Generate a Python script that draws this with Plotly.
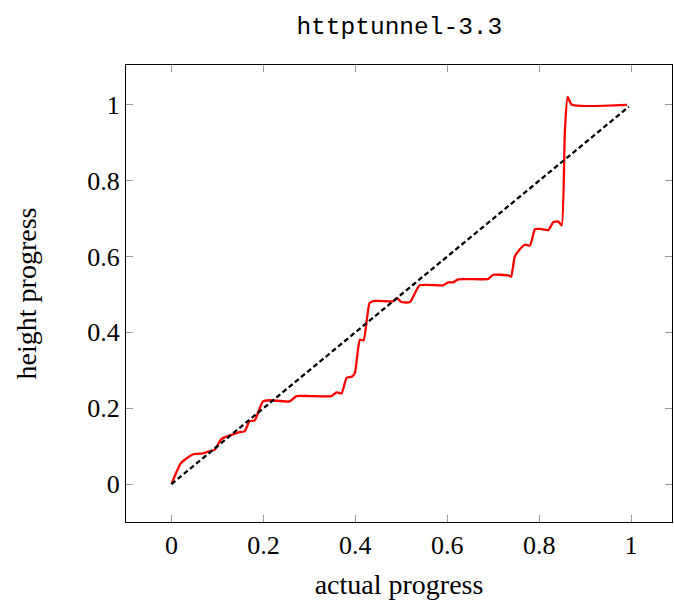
import plotly.graph_objects as go

# Red curve: measured height progress vs. actual progress
actual = [0.0, 0.021, 0.046, 0.068, 0.083, 0.094, 0.108, 0.119, 0.134, 0.148, 0.159,
          0.170, 0.181, 0.199, 0.214, 0.257, 0.272, 0.301, 0.348, 0.359, 0.370,
          0.381, 0.392, 0.399, 0.410, 0.418, 0.431, 0.442, 0.468, 0.482, 0.491,
          0.500, 0.519, 0.540, 0.591, 0.602, 0.613, 0.624, 0.689, 0.700, 0.733,
          0.739, 0.747, 0.758, 0.769, 0.780, 0.791, 0.802, 0.820, 0.831, 0.842,
          0.849, 0.856, 0.862, 0.871, 0.991]
height = [0.0, 0.056, 0.078, 0.081, 0.087, 0.091, 0.118, 0.125, 0.131, 0.137, 0.139,
          0.166, 0.168, 0.218, 0.221, 0.218, 0.232, 0.232, 0.232, 0.242, 0.239,
          0.280, 0.283, 0.293, 0.381, 0.379, 0.477, 0.483, 0.482, 0.482, 0.490,
          0.480, 0.480, 0.524, 0.524, 0.532, 0.532, 0.540, 0.541, 0.552, 0.550,
          0.547, 0.600, 0.619, 0.631, 0.629, 0.672, 0.673, 0.670, 0.691, 0.692,
          0.682, 0.933, 1.021, 1.0, 1.0]

# Ideal diagonal reference
ideal_x = [0.0, 0.995]
ideal_y = [0.0, 0.995]

tick_vals = [0, 0.2, 0.4, 0.6, 0.8, 1]
tick_text = ["0", "0.2", "0.4", "0.6", "0.8", "1"]

serif = "Liberation Serif, Times New Roman, serif"

fig = go.Figure()
fig.add_trace(go.Scatter(x=actual, y=height, mode="lines",
                         line=dict(color="#ff0000", width=2.3, shape="spline", smoothing=0.5),
                         showlegend=False, hoverinfo="skip"))
fig.add_trace(go.Scatter(x=ideal_x, y=ideal_y, mode="lines",
                         line=dict(color="black", width=2.3, dash="5px,3px"),
                         showlegend=False, hoverinfo="skip"))

axis_common = dict(
    showgrid=False, zeroline=False, showline=True, linecolor="black", linewidth=1,
    mirror="allticks", ticks="inside", ticklen=7, tickcolor="#9a9a9a", tickwidth=1,
    tickvals=tick_vals, ticktext=tick_text,
    tickfont=dict(family=serif, size=26, color="black"),
)

fig.update_layout(
    width=674, height=607,
    margin=dict(l=126, r=2, t=65, b=85),
    paper_bgcolor="white", plot_bgcolor="white",
    title=dict(text="httptunnel-3.3", x=0.5925, xanchor="center", y=0.958, yanchor="middle",
               font=dict(family="Liberation Mono, Courier New, monospace", size=24.5, color="black")),
    xaxis=dict(range=[-0.099, 1.089], title=dict(text="actual progress", standoff=15,
               font=dict(family=serif, size=28, color="black")), **axis_common),
    yaxis=dict(range=[-0.1, 1.105], title=dict(text="height progress", standoff=42,
               font=dict(family=serif, size=28, color="black")), **axis_common),
)

fig.write_html("out.html")
